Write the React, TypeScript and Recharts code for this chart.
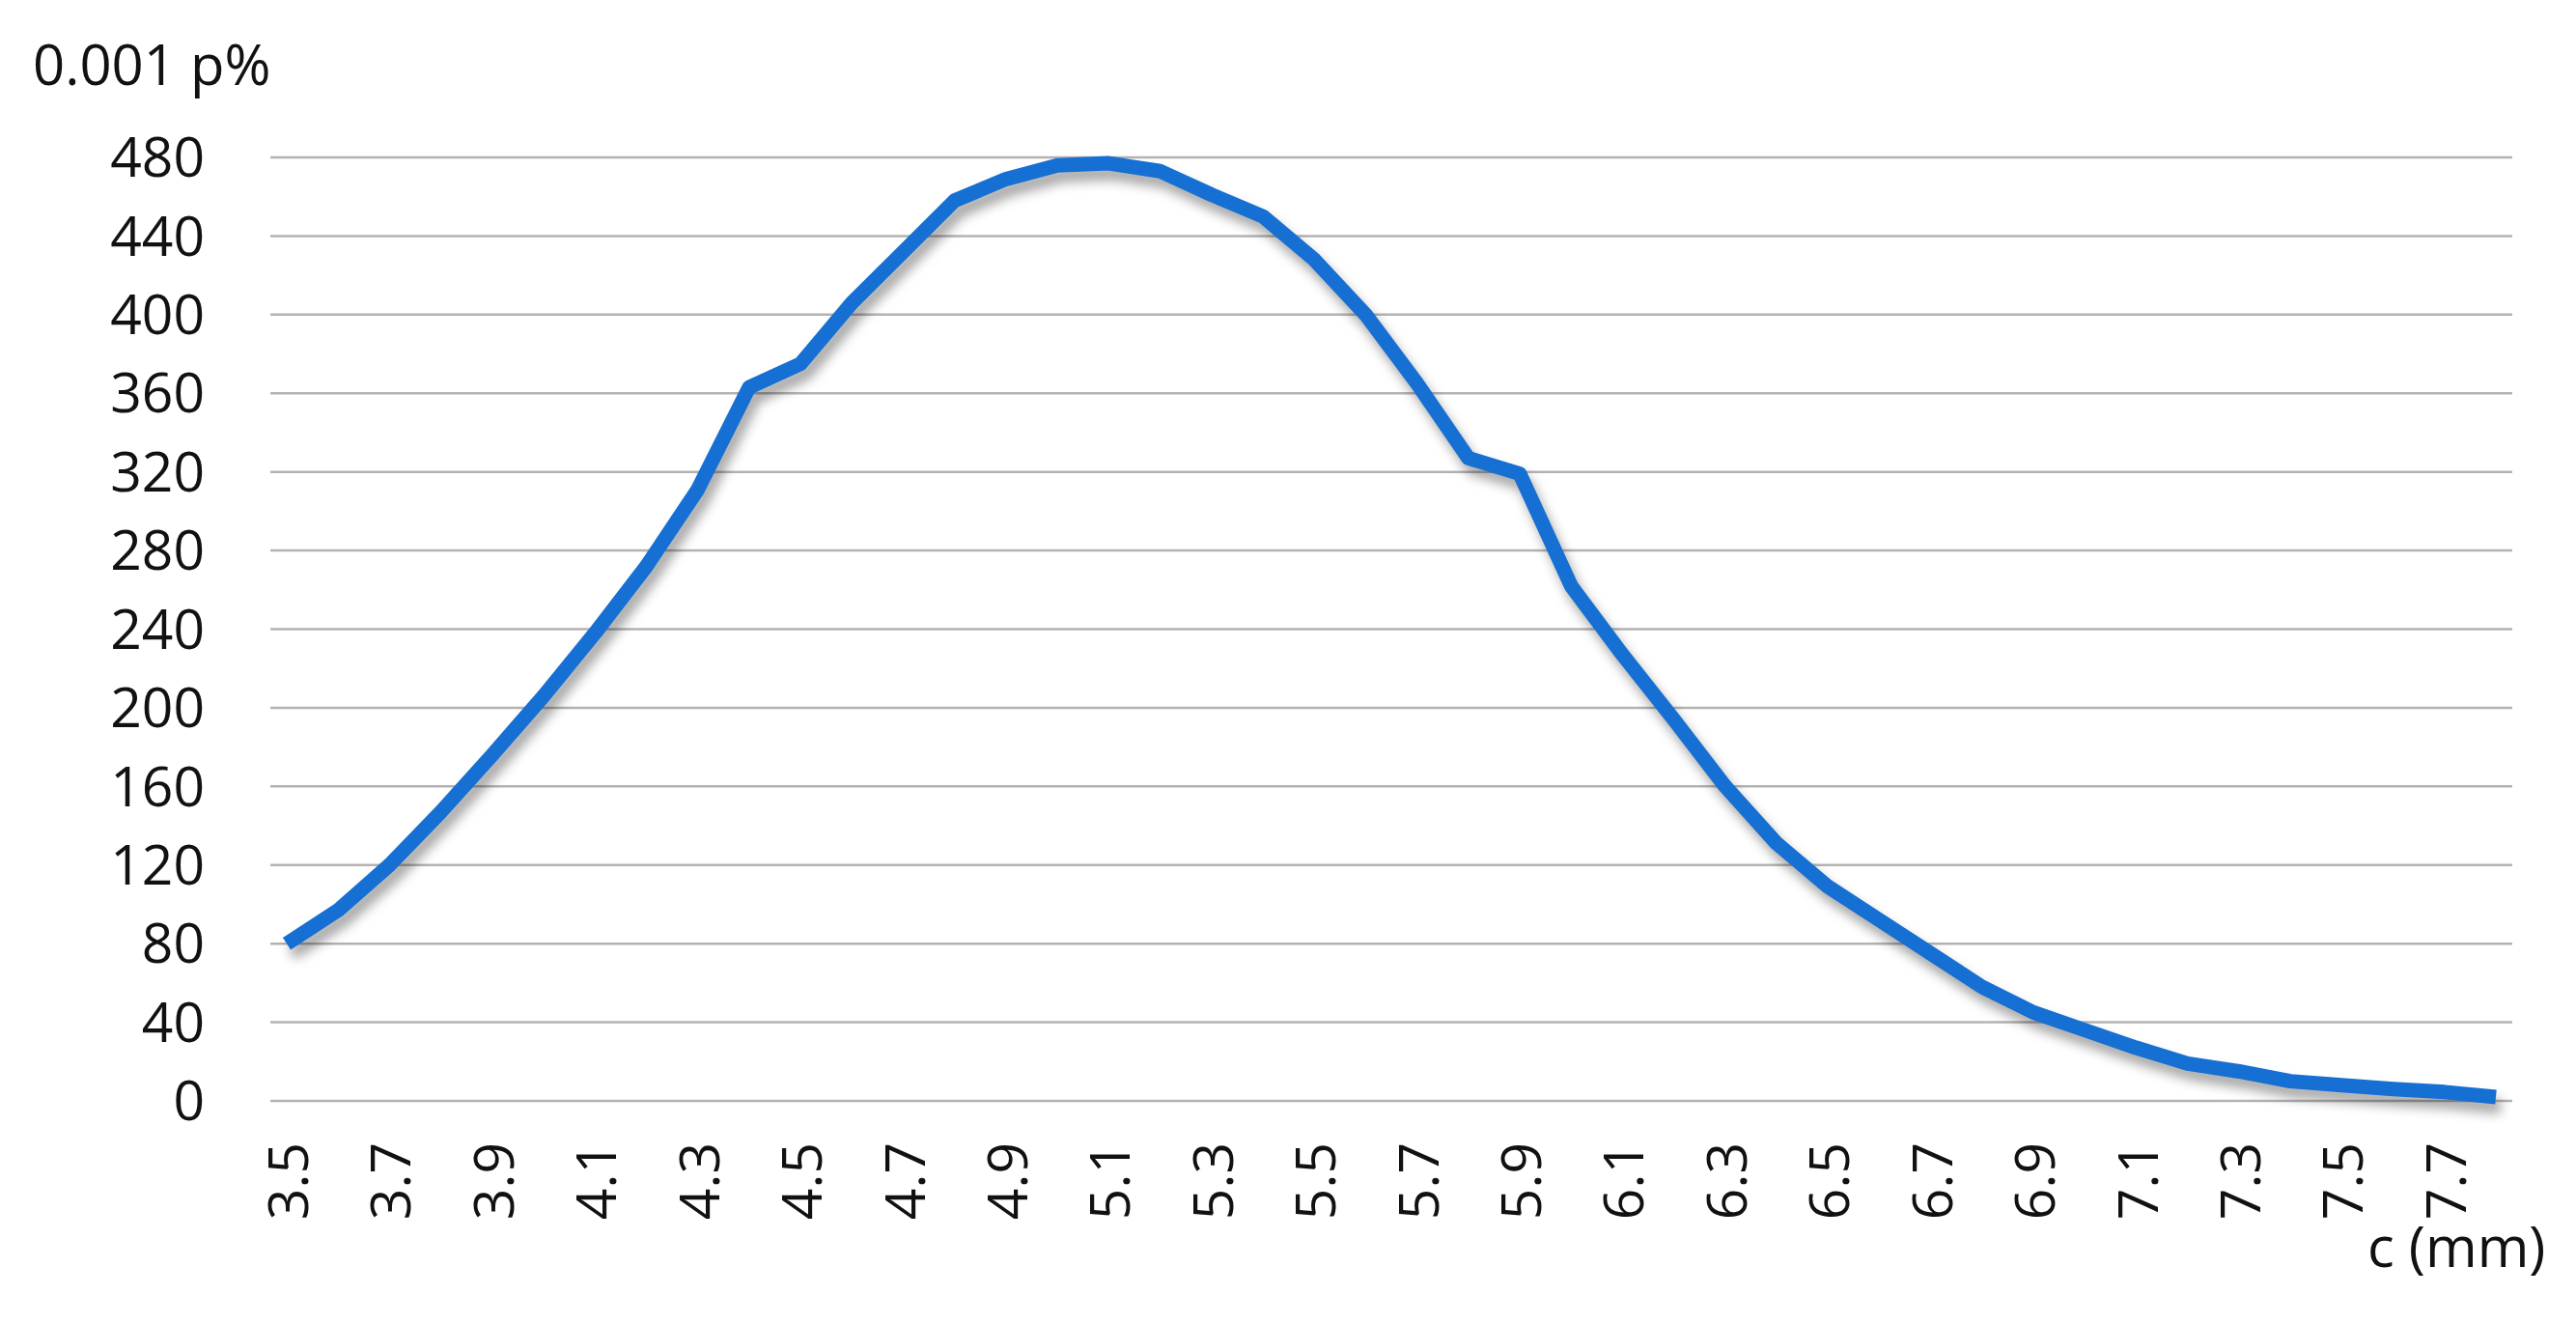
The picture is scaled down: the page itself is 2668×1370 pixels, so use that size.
import { LineChart, Line, XAxis, YAxis, CartesianGrid } from 'recharts';

// diametro c (mm), um ponto a cada 0.1
const categories = [
  '3.5', '3.6', '3.7', '3.8', '3.9', '4.0', '4.1', '4.2', '4.3', '4.4', '4.5',
  '4.6', '4.7', '4.8', '4.9', '5.0', '5.1', '5.2', '5.3', '5.4', '5.5', '5.6',
  '5.7', '5.8', '5.9', '6.0', '6.1', '6.2', '6.3', '6.4', '6.5', '6.6', '6.7',
  '6.8', '6.9', '7.0', '7.1', '7.2', '7.3', '7.4', '7.5', '7.6', '7.7', '7.8',
];

// 0.001 p%
const probability = [
  80, 97, 120, 147, 176, 206, 238, 272, 311, 363, 375,
  406, 432, 458, 469, 476, 477, 473, 461, 450, 428, 400,
  365, 327, 319, 262, 227, 194, 160, 131, 109, 92, 75,
  58, 45, 36, 27, 19, 15, 10, 8, 6, 4.5, 2,
];

const yTicks = [0, 40, 80, 120, 160, 200, 240, 280, 320, 360, 400, 440, 480];

const chartData = categories.map((c, i) => ({ c, p: probability[i] }));

const FONT = '"Open Sans", "Noto Sans", sans-serif';

// rotulo do eixo x girado, lido de baixo para cima
const XTick = ({ x, y, payload }: any) => (
  <text
    x={x}
    y={y}
    transform={`rotate(-90, ${x}, ${y})`}
    textAnchor="end"
    dominantBaseline="central"
    fontSize={57}
    fontFamily={FONT}
    fill="#111"
  >
    {payload.value}
  </text>
);

const App = () => {
  return (
    <div style={{ position: 'relative', width: 2668, height: 1370, background: '#fff', fontFamily: FONT }}>
      <style>{`
        body { margin: 0; }
        .recharts-line path { filter: drop-shadow(5px 10px 6px rgba(0,0,0,0.35)); }
      `}</style>
      <LineChart
        width={2668}
        height={1370}
        data={chartData}
        margin={{ top: 163, right: 66, bottom: 0, left: 0 }}
      >
        <CartesianGrid vertical={false} stroke="#b3b3b3" strokeWidth={2.5} />
        <XAxis
          dataKey="c"
          scale="point"
          padding={{ left: 17, right: 17 }}
          interval={1}
          axisLine={false}
          tickLine={false}
          tickSize={0}
          tickMargin={43}
          height={230}
          tick={<XTick />}
        />
        <YAxis
          type="number"
          domain={[0, 480]}
          ticks={yTicks}
          interval={0}
          width={280}
          axisLine={false}
          tickLine={false}
          tickSize={0}
          tickMargin={68}
          tick={{ fontSize: 57, fill: '#111', fontFamily: FONT }}
        />
        <Line
          type="linear"
          dataKey="p"
          stroke="#166fd2"
          strokeWidth={15}
          strokeLinejoin="round"
          dot={false}
          activeDot={false}
          isAnimationActive={false}
        />
      </LineChart>
      <svg
        width={2668}
        height={1370}
        style={{ position: 'absolute', left: 0, top: 0, pointerEvents: 'none' }}
      >
        <text x={34} y={88} fontSize={58} fontFamily={FONT} fill="#111">0.001 p%</text>
        <text x={2452} y={1312} fontSize={58} fontFamily={FONT} fill="#111">c (mm)</text>
      </svg>
    </div>
  );
};

export default App;
